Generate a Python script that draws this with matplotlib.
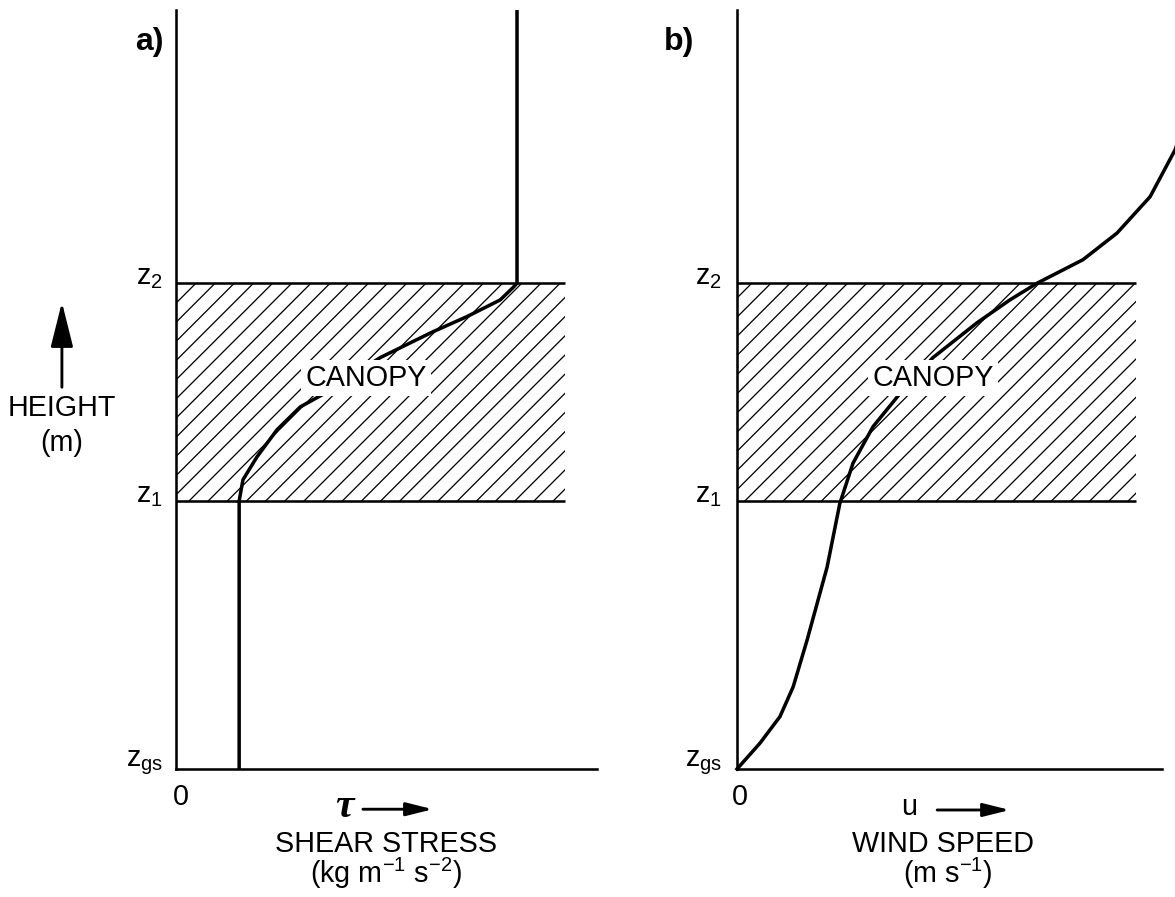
import matplotlib
matplotlib.use("Agg")
import matplotlib.pyplot as plt

plt.rcParams["font.family"] = ["Liberation Sans", "DejaVu Sans"]
plt.rcParams["mathtext.fontset"] = "custom"
plt.rcParams["mathtext.rm"] = "Liberation Sans"
plt.rcParams["mathtext.it"] = "Liberation Sans:italic"
plt.rcParams["mathtext.bf"] = "Liberation Sans:bold"
plt.rcParams["mathtext.default"] = "regular"
plt.rcParams["hatch.linewidth"] = 0.8

# heights (arbitrary units, ground surface = 0)
Z_TOP = 10.0
Z1 = 3.53
Z2 = 6.40

# canopy extent along each x axis
CANOPY_RIGHT_A = 9.24
CANOPY_RIGHT_B = 9.39

# shear stress profile
tau_x = [1.50, 1.50, 1.59, 1.92, 2.40, 2.95, 3.47, 4.85, 6.10, 6.91, 7.70, 8.00, 8.10, 8.10]
tau_z = [0.00, 3.53, 3.81, 4.11, 4.47, 4.77, 4.93, 5.42, 5.76, 5.96, 6.18, 6.34, 6.40, 10.0]

# wind speed profile
u_x = [0.00, 0.54, 1.01, 1.32, 1.65, 2.12, 2.42, 2.73, 3.20, 3.84, 4.61, 5.65, 6.42,
       7.06, 8.14, 8.94, 9.72, 10.31, 10.54]
u_z = [0.00, 0.34, 0.69, 1.08, 1.70, 2.66, 3.50, 4.03, 4.51, 4.95, 5.42, 5.88, 6.18,
       6.40, 6.71, 7.06, 7.54, 8.16, 8.55]

W, H, DPI = 1175, 897, 115
LW_AXIS = 1.6
LW_CURVE = 2.2
FS = 18


def add_panel(fig, left, right):
    ax = fig.add_axes([left / W, 1 - 769 / H, (right - left) / W, (769 - 10) / H])
    ax.set_xlim(0, 10)
    ax.set_ylim(0, Z_TOP)
    for side in ("top", "right"):
        ax.spines[side].set_visible(False)
    for side in ("left", "bottom"):
        ax.spines[side].set_linewidth(LW_AXIS)
    ax.set_xticks([])
    ax.set_yticks([])
    ax.patch.set_alpha(0)
    return ax


def draw_canopy(ax, right, label_x):
    ax.fill_between([0, right], Z1, Z2, facecolor="none", edgecolor="black",
                    hatch="//", linewidth=0, zorder=1)
    ax.hlines([Z1, Z2], 0, right, color="black", lw=LW_AXIS, zorder=2)
    ax.text(label_x, 5.15, "CANOPY", fontsize=FS, ha="center", va="center", zorder=5,
            bbox=dict(facecolor="white", edgecolor="none", pad=2.5))


def height_labels(ax, x):
    for z, name in ((Z2, "$z_2$"), (Z1, "$z_1$"), (0.0, "$z_{gs}$")):
        ax.text(x, z + 0.08, name, fontsize=FS, ha="right", va="center", clip_on=False)


def x_arrow(ax, x0, x1, y):
    ax.annotate("", xy=(x1, y), xytext=(x0, y), annotation_clip=False,
                arrowprops=dict(arrowstyle="-|>,head_length=1.4,head_width=0.35",
                                mutation_scale=10, lw=1.8, color="black",
                                shrinkA=0, shrinkB=0))


fig = plt.figure(figsize=(W / DPI, H / DPI), dpi=DPI)

# a) shear stress
ax_a = add_panel(fig, 176, 597)
draw_canopy(ax_a, CANOPY_RIGHT_A, 4.51)
ax_a.plot(tau_x, tau_z, color="black", lw=LW_CURVE, zorder=3, clip_on=False,
          solid_capstyle="butt")
height_labels(ax_a, -0.31)
ax_a.text(0.12, -0.18, "0", fontsize=FS, ha="center", va="top")
ax_a.text(4.01, -0.50, "τ", fontsize=26, family="Liberation Serif", style="italic",
          weight="bold", ha="center", va="center")
x_arrow(ax_a, 4.44, 6.10, -0.53)
ax_a.text(4.99, -0.99, "SHEAR STRESS", fontsize=FS, ha="center", va="center")
ax_a.text(4.99, -1.38, "(kg m$^{-1}$ s$^{-2}$)", fontsize=FS, ha="center", va="center")
ax_a.text(-0.3, 9.78, "a)", fontsize=20, weight="bold", ha="right", va="top")

# height axis label
ax_a.annotate("", xy=(-2.71, 6.15), xytext=(-2.71, 5.03), annotation_clip=False,
              arrowprops=dict(arrowstyle="-|>,head_length=2.4,head_width=0.6",
                              mutation_scale=10, lw=1.8, color="black",
                              shrinkA=0, shrinkB=0))
ax_a.text(-2.71, 4.76, "HEIGHT", fontsize=FS, ha="center", va="center")
ax_a.text(-2.71, 4.30, "(m)", fontsize=FS, ha="center", va="center")

# b) wind speed
ax_b = add_panel(fig, 737, 1162)
draw_canopy(ax_b, CANOPY_RIGHT_B, 4.61)
ax_b.plot(u_x, u_z, color="black", lw=LW_CURVE, zorder=3, clip_on=False)
height_labels(ax_b, -0.35)
ax_b.text(0.07, -0.18, "0", fontsize=FS, ha="center", va="top")
ax_b.text(4.05, -0.50, "u", fontsize=FS, ha="center", va="center")
x_arrow(ax_b, 4.71, 6.42, -0.54)
ax_b.text(4.85, -0.99, "WIND SPEED", fontsize=FS, ha="center", va="center")
ax_b.text(4.96, -1.38, "(m s$^{-1}$)", fontsize=FS, ha="center", va="center")
ax_b.text(-1.0, 9.78, "b)", fontsize=20, weight="bold", ha="right", va="top")

fig.savefig("out.png", dpi=DPI)
plt.close(fig)
